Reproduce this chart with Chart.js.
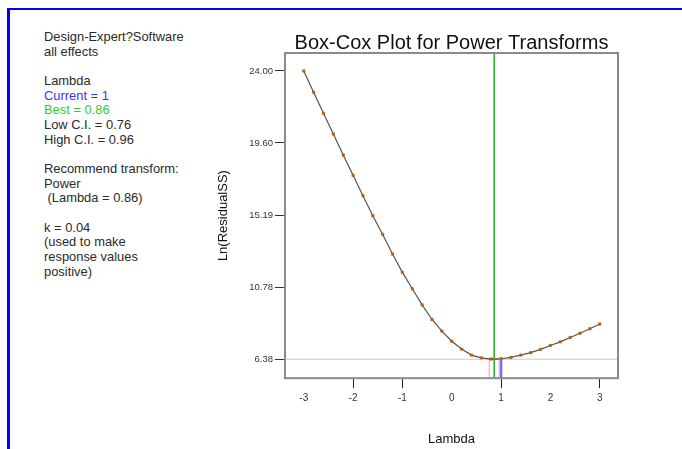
<!DOCTYPE html>
<html>
<head>
<meta charset="utf-8">
<script src="https://cdn.jsdelivr.net/npm/chart.js@4"></script>
<style>
  html, body { margin: 0; padding: 0; background: #fff; }
  body { width: 682px; height: 449px; position: relative; overflow: hidden; font-family: Arial, "Liberation Sans", sans-serif; }
  #frame { position: absolute; left: 7px; top: 8px; right: 0; bottom: 0; border-top: 2px solid #0000ff; border-left: 3px solid #0000ff; }
  #info { position: absolute; left: 44px; top: 30px; font-size: 12.9px; line-height: 14.67px; color: #2a2a2a; white-space: pre; }
  #chartBox { position: absolute; left: 0; top: 0; width: 682px; height: 449px; }
</style>
</head>
<body>
<div id="frame"></div>
<div id="info">Design-Expert?Software
all effects

Lambda
<span style="color:#3333ff">Current = 1</span>
<span style="color:#33cc33">Best = 0.86</span>
Low C.I. = 0.76
High C.I. = 0.96

Recommend transform:
Power
 (Lambda = 0.86)

k = 0.04
(used to make
response values
positive)</div>
<div id="chartBox"><canvas id="boxCox" width="682" height="449"></canvas></div>
<script>
// lambda values on the x axis
const lambdas = [-3.0, -2.8, -2.6, -2.4, -2.2, -2.0, -1.8, -1.6, -1.4, -1.2, -1.0,
                 -0.8, -0.6, -0.4, -0.2, 0.0, 0.2, 0.4, 0.6, 0.8, 1.0,
                 1.2, 1.4, 1.6, 1.8, 2.0, 2.2, 2.4, 2.6, 2.8, 3.0]
// Ln(ResidualSS)
const lnResidualSS = [24.00, 22.70, 21.41, 20.15, 18.86, 17.62, 16.38, 15.15, 14.01, 12.81, 11.69,
                      10.69, 9.70, 8.81, 8.10, 7.48, 7.00, 6.63, 6.46, 6.39, 6.41,
                      6.49, 6.63, 6.78, 6.98, 7.22, 7.44, 7.71, 7.97, 8.24, 8.53]
const yTickValues = [6.38, 10.78, 15.19, 19.60, 24.00]
const xTickValues = [-3, -2, -1, 0, 1, 2, 3]

const chartTitle = 'Box-Cox Plot for Power Transforms'
const currentLambda = 1
const bestLambda = 0.86
const lowCI = 0.76
const highCI = 0.96
const minLnSS = 6.38

const xMin = -3.38, xMax = 3.37
const yMin = 5.22, yMax = 25.10

const refLine = (pts, color, width) => ({
  type: 'line',
  data: pts,
  borderColor: color,
  borderWidth: width,
  pointRadius: 0,
  fill: false,
  order: 5
})

// plot frame + title centred over the plot area
const framePlugin = {
  id: 'frame',
  afterDatasetsDraw(chart) {
    const {ctx, chartArea: a} = chart
    ctx.save()
    ctx.strokeStyle = '#8a8a8a'
    ctx.lineWidth = 2
    ctx.strokeRect(a.left, a.top, a.right - a.left, a.bottom - a.top)
    ctx.fillStyle = '#111'
    ctx.font = '20px Arial, "Liberation Sans"'
    ctx.textAlign = 'center'
    ctx.textBaseline = 'middle'
    ctx.fillText(chartTitle, (a.left + a.right) / 2, a.top - 10)
    ctx.restore()
  }
}

new Chart(document.getElementById('boxCox'), {
  type: 'scatter',
  data: {
    datasets: [
      refLine([{x: xMin, y: minLnSS}, {x: xMax, y: minLnSS}], '#c8c8c8', 1),
      refLine([{x: bestLambda, y: yMin}, {x: bestLambda, y: yMax}], '#1fb51f', 1.5),
      refLine([{x: lowCI, y: yMin}, {x: lowCI, y: minLnSS}], '#ff9c9c', 1),
      refLine([{x: highCI, y: yMin}, {x: highCI, y: minLnSS}], '#ff9c9c', 1),
      refLine([{x: currentLambda, y: yMin}, {x: currentLambda, y: minLnSS}], '#6f6fff', 2.5),
      refLine([{x: lowCI, y: minLnSS}, {x: highCI, y: minLnSS}], '#111', 1.5),
      {
        label: 'Ln(ResidualSS)',
        data: lambdas.map((x, i) => ({x, y: lnResidualSS[i]})),
        showLine: true,
        borderColor: '#555',
        borderWidth: 1.2,
        pointStyle: 'rect',
        pointRadius: 1.7,
        pointBackgroundColor: '#c96300',
        pointBorderColor: '#a04e00',
        pointBorderWidth: 0.5,
        order: 1
      }
    ]
  },
  options: {
    responsive: false,
    animation: false,
    layout: { padding: { left: 216, right: 64, top: 53, bottom: 2 } },
    plugins: {
      legend: { display: false },
      tooltip: { enabled: false },
      title: { display: false }
    },
    scales: {
      x: {
        type: 'linear',
        min: xMin,
        max: xMax,
        afterBuildTicks: s => { s.ticks = xTickValues.map(v => ({value: v})) },
        afterFit: s => { s.height = 68.8 },
        ticks: { color: '#333', font: { family: 'Arial, "Liberation Sans"', size: 10 }, padding: 4 },
        grid: {
          drawOnChartArea: false,
          tickLength: 10,
          tickColor: c => ([-2, -1, 1, 3].includes(c.tick && c.tick.value) ? '#222' : 'rgba(0,0,0,0)')
        },
        border: { display: false },
        title: {
          display: true,
          text: 'Lambda',
          color: '#111',
          font: { family: 'Arial, "Liberation Sans"', size: 13 },
          padding: 0
        }
      },
      y: {
        type: 'linear',
        min: yMin,
        max: yMax,
        afterBuildTicks: s => { s.ticks = yTickValues.map(v => ({value: v})) },
        afterFit: s => { s.width = 69 },
        ticks: {
          color: '#333',
          font: { family: 'Arial, "Liberation Sans"', size: 9.5 },
          padding: 2,
          callback: v => Number(v).toFixed(2)
        },
        grid: { drawOnChartArea: false, tickLength: 10, tickColor: '#333' },
        border: { display: false },
        title: {
          display: true,
          text: 'Ln(ResidualSS)',
          color: '#111',
          font: { family: 'Arial, "Liberation Sans"', size: 13 },
          padding: 0
        }
      }
    }
  },
  plugins: [framePlugin]
})
</script>
</body>
</html>
